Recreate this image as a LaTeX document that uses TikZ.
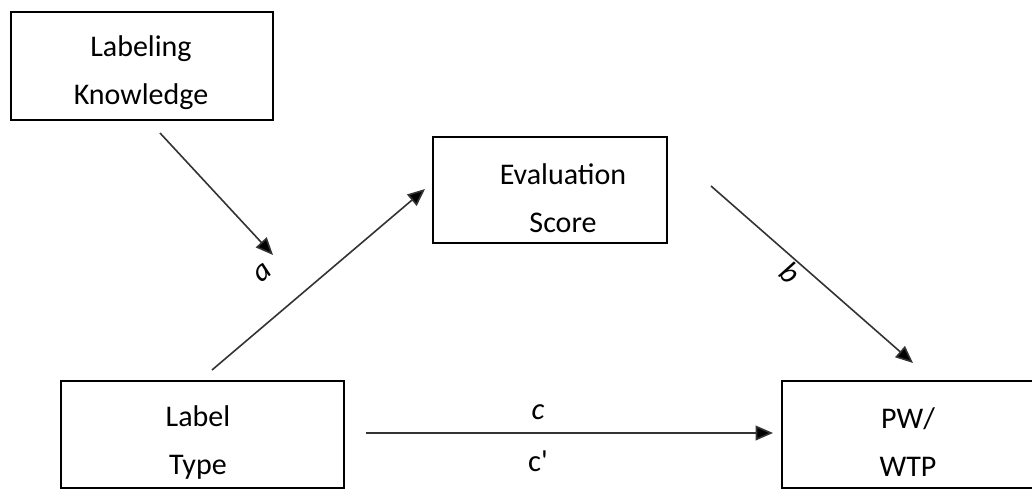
\documentclass[tikz,border=0pt]{standalone}
\usepackage{fontspec}
\setmainfont{Carlito}
\usetikzlibrary{arrows.meta}
\begin{document}
\begin{tikzpicture}[x=0.75pt,y=-0.75pt,
  box/.style={draw=black,line width=1.5pt,rectangle,inner sep=0pt},
  txt/.style={font=\fontsize{22.5}{36}\selectfont,align=center,inner sep=0pt},
  lbl/.style={font=\fontsize{23}{26}\selectfont\itshape,inner sep=0pt},
  conn/.style={line width=1.2pt,draw={black!80},-{Triangle[length=13pt,width=11pt,fill=black]}}]
\useasboundingbox (0,0) rectangle (1032,489);
% boxes
\node[box,minimum width=196.5pt,minimum height=81pt] (lk) at (142,66) {};
\node[txt] (lkt) at (141,73) {Labeling\\Knowledge};
\node[box,minimum width=175.5pt,minimum height=79.5pt] (es) at (550,190) {};
\node[txt] (est) at (563,198) {Evaluation\\Score};
\node[box,minimum width=212.25pt,minimum height=80.25pt] (lt) at (202.5,434) {};
\node[txt] (ltt) at (198,442) {Label\\Type};
\node[box,minimum width=193.5pt,minimum height=80.25pt] (pw) at (911,434) {};
\node[txt] (pwt) at (908,442) {PW/\\WTP};
% connector end points
\coordinate (k1) at (160,133);
\coordinate (k2) at (273,255);
\coordinate (a1) at (212,370);
\coordinate (a2) at (425,189);
\coordinate (b1) at (711,186);
\coordinate (b2) at (913,363);
\coordinate (c1) at (366,433);
\coordinate (c2) at (773,433);
\draw[conn] (k1) -- (k2);
\draw[conn] (a1) -- (a2);
\draw[conn] (b1) -- (b2);
\draw[conn] (c1) -- (c2);
% labels
\node[lbl,rotate=40] (la) at (263,273) {a};
\node[lbl,rotate=-41] (lb) at (790,273) {b};
\node[lbl] (lc) at (538,412) {c};
\node[lbl,font=\fontsize{23}{26}\selectfont] (lc2) at (538,461) {c\textquotesingle};
\end{tikzpicture}
\end{document}
